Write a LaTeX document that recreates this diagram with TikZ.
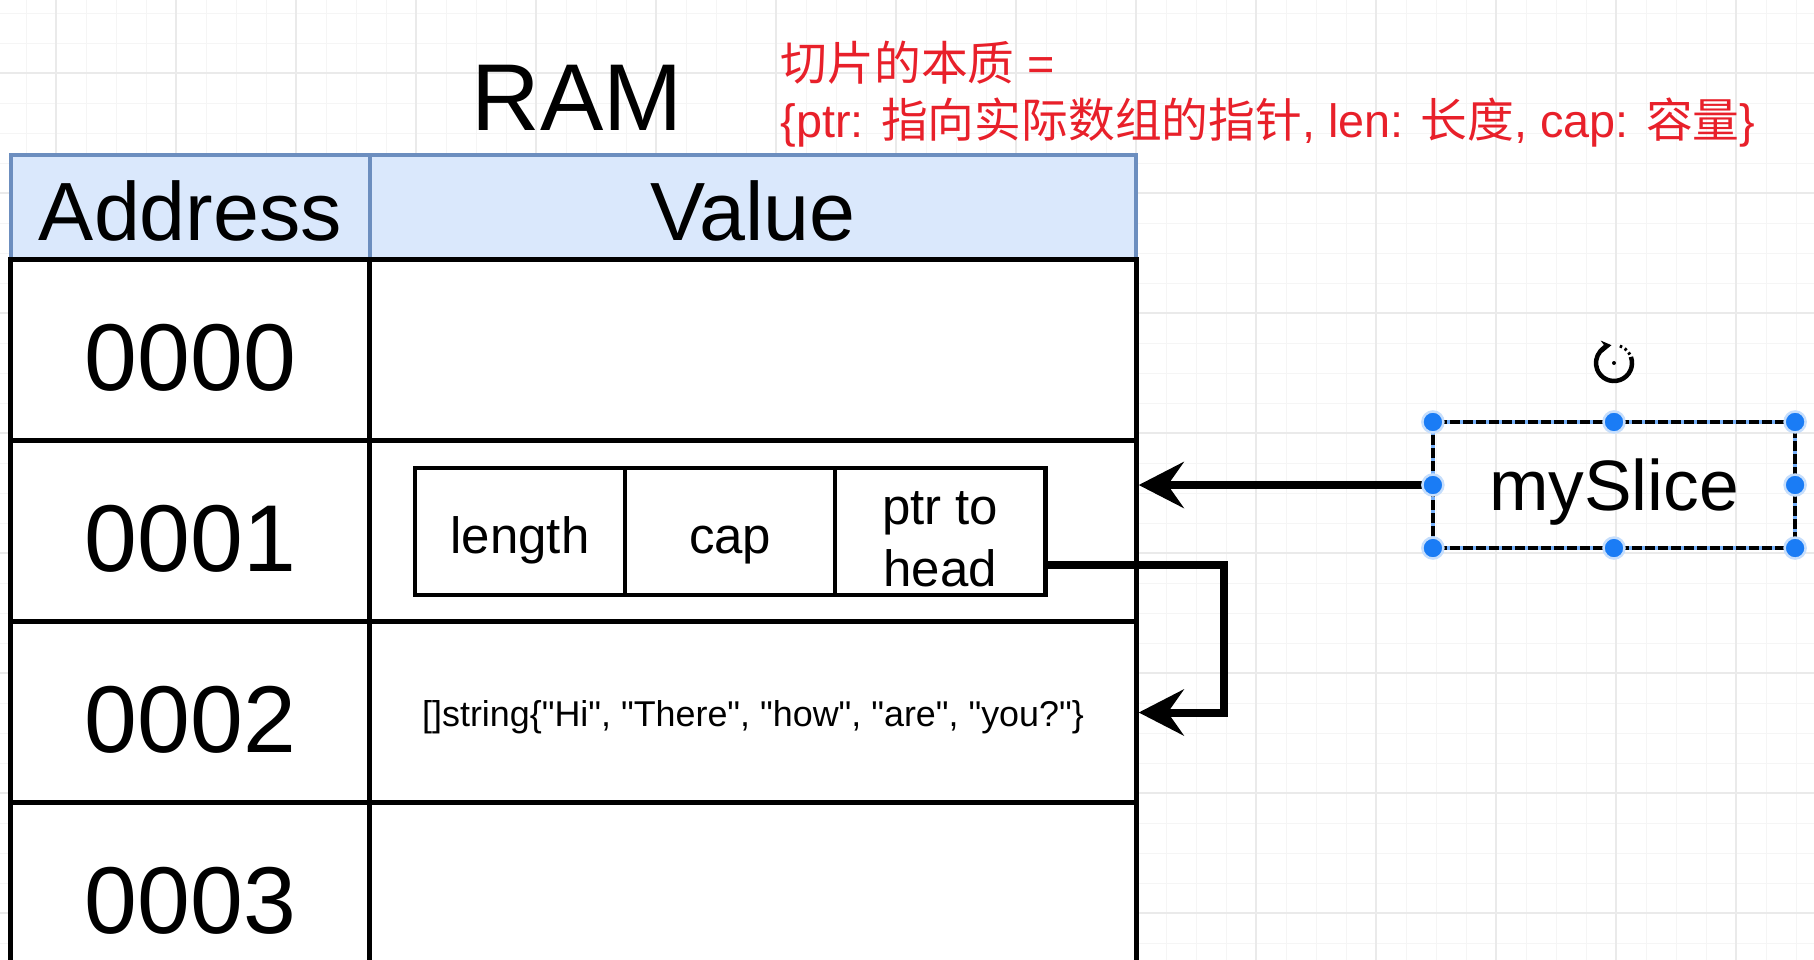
\documentclass[tikz,border=0pt]{standalone}
\usepackage{fontspec}
\setmainfont{Liberation Sans}
\newfontfamily\zh{Noto Sans CJK SC}
\usetikzlibrary{positioning,calc,arrows.meta}
\definecolor{HeadFill}{HTML}{DAE8FC}
\definecolor{HeadEdge}{HTML}{6C8EBF}
\definecolor{NoteRed}{HTML}{E8202A}
\definecolor{HandleBlue}{HTML}{1A7CF5}
\definecolor{GridMajor}{HTML}{EAEAEA}
\definecolor{GridMinor}{HTML}{F5F5F5}
\tikzset{
  headcell/.style={draw=HeadEdge,fill=HeadFill,line width=0.04cm,minimum height=1.05cm,inner sep=0pt,
    text height=0.66cm,text depth=0pt,font=\fontsize{23.5}{28}\selectfont},
  memcell/.style={draw=black,fill=white,line width=0.05cm,minimum height=1.81cm,inner sep=0pt,
    text height=0.8cm,text depth=0pt},
  slicecell/.style={draw=black,line width=0.045cm,minimum width=2.1cm,minimum height=1.27cm,inner sep=0pt,outer sep=0pt,
    font=\fontsize{14.5}{17.6}\selectfont,text height=0.43cm,text depth=0pt,align=center},
  link/.style={line width=0.08cm,-{Stealth[length=0.45cm,width=0.46cm,inset=0.16cm]}},
  handle/.style={circle,fill=HandleBlue,draw=HandleBlue!25,line width=0.025cm,minimum size=0.21cm,inner sep=0pt},
}

\begin{document}
\begin{tikzpicture}[x=0.01cm,y=-0.01cm]
\useasboundingbox (0,0) rectangle (1814,960);
\clip (0,0) rectangle (1814,960);
\fill[white] (0,0) rectangle (1814,960);
\foreach \gx in {26,56,...,1814} \draw[GridMinor,line width=0.01cm] (\gx,0) -- (\gx,960);
\foreach \gy in {13,43,...,960} \draw[GridMinor,line width=0.01cm] (0,\gy) -- (1814,\gy);
\foreach \gx in {56,176,...,1814} \draw[GridMajor,line width=0.015cm] (\gx,0) -- (\gx,960);
\foreach \gy in {73,193,...,960} \draw[GridMajor,line width=0.015cm] (0,\gy) -- (1814,\gy);

\node[font=\fontsize{27}{32}\selectfont] (ramtitle) at (577,98) {RAM};
\node[NoteRed,anchor=north west,align=left,inner sep=0pt,font=\fontsize{13.3}{16.3}\selectfont] (note) at (780,40)
  {{\zh 切片的本质} =\\\{ptr: {\zh 指向实际数组的指针}, len: {\zh 长度}, cap: {\zh 容量}\}};

\node[headcell,minimum width=3.59cm] (addrhead) at (190.5,207.5) {Address};
\node[headcell,minimum width=7.66cm] (valhead) at (753,207.5) {Value};
\foreach \addr/\yy [count=\i from 0] in {0000/350.5,0001/531.5,0002/712.5,0003/893.5} {
  \node[memcell,minimum width=3.59cm,font=\fontsize{27}{32}\selectfont] (addr\i) at (190.5,\yy) {\addr};
  \node[memcell,minimum width=7.66cm] (val\i) at (753,\yy) {};
}

\node[slicecell] (lencell) at (520,531.5) {length};
\node[slicecell,right=0pt of lencell] (capcell) {cap};
\node[slicecell,right=0pt of capcell,text height=1.09cm] (ptrcell) {ptr to\\head};
\node[font=\fontsize{10.2}{12}\selectfont,yshift=-0.05cm] (strval) at (val2)
  {[]string\{\textquotedbl Hi\textquotedbl, \textquotedbl There\textquotedbl, \textquotedbl how\textquotedbl, \textquotedbl are\textquotedbl, \textquotedbl you?\textquotedbl\}};

\node[draw=HandleBlue!60,line width=0.035cm,outer sep=0pt,minimum width=3.62cm,minimum height=1.26cm,text depth=0pt,
  font=\fontsize{20.3}{24}\selectfont] (myslice) at (1614,485) {mySlice};
\draw[line width=0.035cm,dash pattern=on 0.1cm off 0.03cm] (myslice.north west) rectangle (myslice.south east);

\coordinate (ptrout) at ($(ptrcell.north east)!0.76!(ptrcell.south east)$);
\draw[link] (myslice.west) -- (myslice.west -| val1.east);
\draw[link] (ptrout) -- ++(179,0) |- (val2.east);

\foreach \a in {north west,north,north east,west,east,south west,south,south east}
  \node[handle] (grip \a) at (myslice.\a) {};

\coordinate (spin) at (1614,363);
\draw[line width=0.045cm,-{Stealth[length=0.1cm,width=0.12cm]}] (spin) ++(-20:18) arc[start angle=-20,end angle=262,radius=18];
\draw[line width=0.03cm,dash pattern=on 0.025cm off 0.03cm] (spin) ++(-28:18) arc[start angle=-28,end angle=-72,radius=18];
\fill (spin) circle[radius=2];
\end{tikzpicture}
\end{document}
